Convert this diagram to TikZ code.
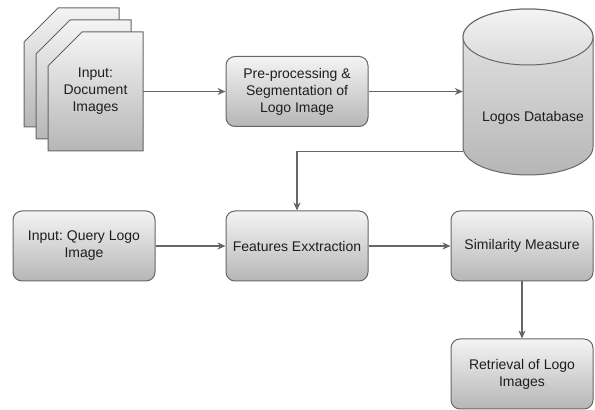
\documentclass[tikz,border=0pt]{standalone}
\usepackage{fontspec}
\setmainfont{Liberation Sans}
\usetikzlibrary{arrows.meta}
\frenchspacing
\definecolor{edge}{HTML}{666666}
\definecolor{ink}{HTML}{1E1E1E}
\definecolor{shadetop}{HTML}{F4F4F4}
\definecolor{shadebot}{HTML}{B6B6B6}

\tikzset{
  label font/.style={text=ink, font=\fontsize{14}{17}\selectfont, align=center},
  stepbox/.style={label font, draw=edge, line width=1pt, rounded corners=9pt,
    top color=shadetop, bottom color=shadebot,
    minimum width=142pt, minimum height=70pt, inner sep=2pt},
  card/.style={draw=edge, line width=1pt, top color=shadetop, bottom color=shadebot},
  arr/.style={draw=edge, line width=1.1pt, -{Stealth[length=8pt,width=7pt]}},
}

\begin{document}
\begin{tikzpicture}[x=1pt,y=1pt]
\useasboundingbox (0,0) rectangle (595,410);

% stack of document pages, back to front
\foreach \px/\py in {24/402, 36/390, 48/378} {
  \path[card] (\px+34,\py) -- (\px+95,\py) -- (\px+95,\py-119)
    -- (\px,\py-119) -- (\px,\py-34) -- cycle;
}
\node[label font, minimum width=95pt, minimum height=119pt, inner sep=0pt]
  (doc) at (95.5,318.5) {Input:\\Document\\Images};

% database cylinder
\path[draw=edge, line width=1pt, top color=shadetop!80!shadebot, bottom color=shadebot]
  (463,373) -- (463,263) arc[start angle=180, end angle=360, x radius=65, y radius=28]
  -- (593,373) arc[start angle=0, end angle=180, x radius=65, y radius=28] -- cycle;
\path[draw=edge, line width=1pt, top color=shadetop, bottom color=shadetop!55!shadebot]
  (528,373) ellipse[x radius=65, y radius=28];
\node[minimum width=130pt, minimum height=168pt, inner sep=0pt] (db) at (528,318.5) {};
\node[label font] (dbtext) at (533,292) {Logos Database};

% process steps
\node[stepbox] (pre)  at (297,318.5) {Pre-processing \&\\Segmentation of\\Logo Image};
\node[stepbox] (query) at (84,164) {Input: Query Logo\\Image};
\node[stepbox] (feat) at (297,164) {Features Exxtraction};
\node[stepbox] (sim)  at (522,164) {Similarity Measure};
\node[stepbox] (ret)  at (522,36) {Retrieval of Logo\\Images};

% connectors
\draw[arr] (doc.east) -- (pre.west);
\draw[arr] (pre.east) -- (db.west);
\draw[arr] ([yshift=-60pt]db.west) -| (feat.north);
\draw[arr] (query.east) -- (feat.west);
\draw[arr] (feat.east) -- (sim.west);
\draw[arr] (sim.south) -- (ret.north);
\end{tikzpicture}
\end{document}
